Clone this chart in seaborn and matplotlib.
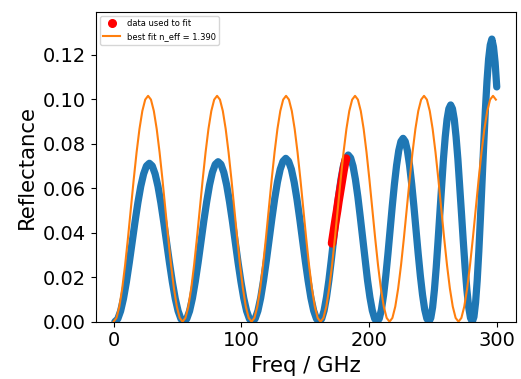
import numpy as np
import matplotlib
matplotlib.use("Agg")
import matplotlib.pyplot as plt
from matplotlib.lines import Line2D
import seaborn as sns

# ---- measured reflectance (blue), read hump by hump from the picture ----
data_freq = [
    1.00, 3.25, 5.50, 7.75, 10.00, 12.25, 14.50, 16.75, 19.00, 21.25, 23.50, 25.75,
    28.00, 30.25, 32.50, 34.75, 37.00, 39.25, 41.50, 43.75, 46.00, 48.25, 50.50, 52.75,
    55.00, 57.23, 59.47, 61.70, 63.93, 66.17, 68.40, 70.63, 72.87, 75.10, 77.33, 79.57,
    81.80, 84.03, 86.27, 88.50, 90.73, 92.97, 95.20, 97.43, 99.67, 101.90, 104.13, 106.37,
    108.60, 110.78, 112.97, 115.15, 117.33, 119.52, 121.70, 123.88, 126.07, 128.25, 130.43, 132.62,
    134.80, 136.98, 139.17, 141.35, 143.53, 145.72, 147.90, 150.08, 152.27, 154.45, 156.63, 158.82,
    161.00, 162.89, 164.78, 166.66, 168.55, 170.44, 172.33, 174.21, 176.10, 177.99, 179.88, 181.76,
    183.65, 185.54, 187.43, 189.31, 191.20, 193.09, 194.98, 196.86, 198.75, 200.64, 202.53, 204.41,
    206.30, 207.99, 209.68, 211.38, 213.07, 214.76, 216.45, 218.14, 219.83, 221.53, 223.22, 224.91,
    226.60, 228.29, 229.98, 231.68, 233.37, 235.06, 236.75, 238.44, 240.13, 241.83, 243.52, 245.21,
    246.90, 248.31, 249.73, 251.14, 252.55, 253.96, 255.38, 256.79, 258.20, 259.61, 261.03, 262.44,
    263.85, 265.26, 266.68, 268.09, 269.50, 270.91, 272.33, 273.74, 275.15, 276.56, 277.98, 279.39,
    280.80, 282.08, 283.35, 284.63, 285.90, 287.18, 288.45, 289.73, 291.00, 292.28, 293.55, 294.83,
    296.10, 297.38, 298.65, 299.93,
]
data_refl = [
    0.0000, 0.0012, 0.0048, 0.0104, 0.0178, 0.0264, 0.0356, 0.0448, 0.0534, 0.0608, 0.0664, 0.0700,
    0.0712, 0.0700, 0.0664, 0.0608, 0.0534, 0.0448, 0.0356, 0.0264, 0.0178, 0.0104, 0.0048, 0.0012,
    0.0000, 0.0012, 0.0048, 0.0105, 0.0180, 0.0266, 0.0360, 0.0453, 0.0539, 0.0614, 0.0671, 0.0707,
    0.0719, 0.0707, 0.0671, 0.0614, 0.0539, 0.0453, 0.0360, 0.0266, 0.0180, 0.0105, 0.0048, 0.0012,
    0.0000, 0.0013, 0.0049, 0.0107, 0.0184, 0.0272, 0.0367, 0.0462, 0.0551, 0.0627, 0.0685, 0.0721,
    0.0734, 0.0721, 0.0685, 0.0627, 0.0551, 0.0462, 0.0367, 0.0272, 0.0184, 0.0107, 0.0049, 0.0013,
    0.0000, 0.0013, 0.0050, 0.0110, 0.0187, 0.0278, 0.0375, 0.0471, 0.0562, 0.0639, 0.0699, 0.0736,
    0.0749, 0.0736, 0.0699, 0.0639, 0.0562, 0.0471, 0.0375, 0.0278, 0.0187, 0.0110, 0.0050, 0.0013,
    0.0000, 0.0014, 0.0055, 0.0121, 0.0206, 0.0305, 0.0412, 0.0519, 0.0618, 0.0703, 0.0769, 0.0810,
    0.0824, 0.0810, 0.0769, 0.0703, 0.0618, 0.0519, 0.0412, 0.0305, 0.0206, 0.0121, 0.0055, 0.0014,
    0.0000, 0.0017, 0.0065, 0.0143, 0.0244, 0.0361, 0.0487, 0.0613, 0.0731, 0.0831, 0.0909, 0.0957,
    0.0974, 0.0957, 0.0909, 0.0831, 0.0731, 0.0613, 0.0487, 0.0361, 0.0244, 0.0143, 0.0065, 0.0017,
    0.0000, 0.0022, 0.0085, 0.0185, 0.0316, 0.0469, 0.0633, 0.0796, 0.0949, 0.1080, 0.1180, 0.1243,
    0.1270, 0.1235, 0.1165, 0.1055,
]

# ---- points used for the fit (red) ----
fit_data_freq = [171, 172, 173, 174, 175, 176, 177, 178, 179, 180, 181, 182]
fit_data_refl = [0.0352, 0.0390, 0.0428, 0.0465, 0.0500, 0.0540, 0.0575, 0.0610,
                 0.0645, 0.0680, 0.0710, 0.0733]

# ---- best-fit curve (orange) ----
model_freq = np.arange(134) * 2.25
model_refl = [
    0.0000, 0.0017, 0.0068, 0.0149, 0.0254, 0.0376, 0.0508, 0.0639, 0.0761, 0.0866, 0.0947, 0.0998,
    0.1015, 0.0998, 0.0947, 0.0866, 0.0761, 0.0639, 0.0508, 0.0376, 0.0254, 0.0149, 0.0068, 0.0017,
    0.0000, 0.0017, 0.0068, 0.0149, 0.0254, 0.0376, 0.0508, 0.0639, 0.0761, 0.0866, 0.0947, 0.0998,
    0.1015, 0.0998, 0.0947, 0.0866, 0.0761, 0.0639, 0.0508, 0.0376, 0.0254, 0.0149, 0.0068, 0.0017,
    0.0000, 0.0017, 0.0068, 0.0149, 0.0254, 0.0376, 0.0508, 0.0639, 0.0761, 0.0866, 0.0947, 0.0998,
    0.1015, 0.0998, 0.0947, 0.0866, 0.0761, 0.0639, 0.0508, 0.0376, 0.0254, 0.0149, 0.0068, 0.0017,
    0.0000, 0.0017, 0.0068, 0.0149, 0.0254, 0.0376, 0.0508, 0.0639, 0.0761, 0.0866, 0.0947, 0.0998,
    0.1015, 0.0998, 0.0947, 0.0866, 0.0761, 0.0639, 0.0508, 0.0376, 0.0254, 0.0149, 0.0068, 0.0017,
    0.0000, 0.0017, 0.0068, 0.0149, 0.0254, 0.0376, 0.0508, 0.0639, 0.0761, 0.0866, 0.0947, 0.0998,
    0.1015, 0.0998, 0.0947, 0.0866, 0.0761, 0.0639, 0.0508, 0.0376, 0.0254, 0.0149, 0.0068, 0.0017,
    0.0000, 0.0017, 0.0068, 0.0149, 0.0254, 0.0376, 0.0508, 0.0639, 0.0761, 0.0866, 0.0947, 0.0998,
    0.1015, 0.0998,
]

x_ticks = [0, 100, 200, 300]
y_ticks = [0.00, 0.02, 0.04, 0.06, 0.08, 0.10, 0.12]
label_data = "data used to fit"
label_fit = "best fit n_eff = 1.390"

fig = plt.figure(figsize=(5.21, 3.79), dpi=100)
ax = fig.add_axes([0.1837, 0.1512, 0.8067, 0.8179])

sns.lineplot(x=data_freq, y=data_refl, ax=ax, color="#1f77b4", linewidth=5.2,
             sort=False, estimator=None, solid_capstyle="round", zorder=2)
sns.lineplot(x=fit_data_freq, y=fit_data_refl, ax=ax, color="red", linewidth=6.2,
             sort=False, estimator=None, solid_capstyle="round", zorder=3)
sns.lineplot(x=model_freq, y=model_refl, ax=ax, color="#ff7f0e", linewidth=1.5,
             sort=False, estimator=None, zorder=4)

ax.set_xlim(-14, 315)
ax.set_ylim(0, 0.1393)
ax.set_xticks(x_ticks)
ax.set_yticks(y_ticks)
ax.set_yticklabels([f"{v:.2f}" for v in y_ticks])
ax.tick_params(labelsize=14)
ax.set_xlabel("Freq / GHz", fontsize=15.3)
ax.set_ylabel("Reflectance", fontsize=15.3)

handles = [
    Line2D([], [], color="red", marker="o", linestyle="none", markersize=5.5),
    Line2D([], [], color="#ff7f0e", linewidth=1.5),
]
ax.legend(handles, [label_data, label_fit], loc="upper left", fontsize=6)

fig.savefig("out.png", dpi=100)
